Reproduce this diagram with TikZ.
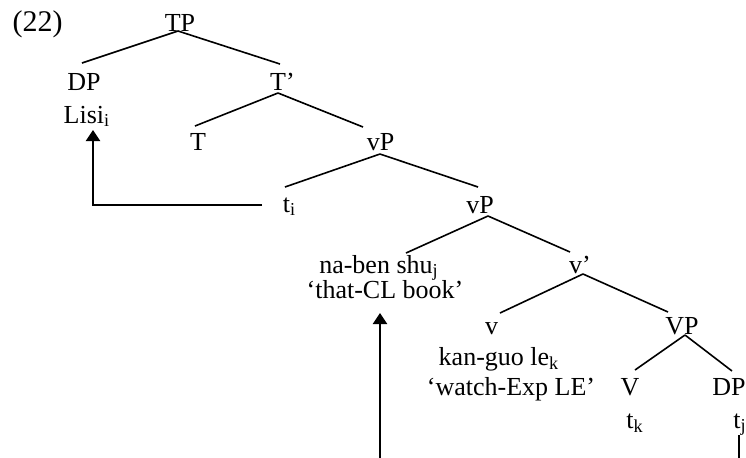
\documentclass[tikz,border=0pt]{standalone}
\usepackage{fontspec}
\setmainfont{Liberation Serif}
\usetikzlibrary{calc,arrows.meta}
\begin{document}
\begin{tikzpicture}[x=0.5pt,y=-0.5pt,
  lbl/.style={anchor=base,inner sep=0pt,font=\fontsize{13}{15}\selectfont},
  branch/.style={line width=0.8pt},
  move/.style={line width=1pt,-{Triangle[width=7pt,length=5.5pt]}}]
\useasboundingbox (0,0) rectangle (746,457);
\node[lbl,font=\fontsize{15}{17}\selectfont] (ex) at (37.5,31) {(22)};
\node[lbl] (TP) at (180,31) {TP};
\node[lbl] (DP) at (84,90) {DP};
\node[lbl] (Lisi) at (87,123) {Lisi\textsubscript{i}};
\node[lbl] (Tbar) at (282.5,90) {T’};
\node[lbl] (T) at (198,150) {T};
\node[lbl] (vP1) at (380.5,150) {vP};
\node[lbl] (ti) at (289.5,212) {t\textsubscript{i}};
\node[lbl] (vP2) at (480,213) {vP};
\node[lbl] (shu) at (379,273) {na-ben shu\textsubscript{j}};
\node[lbl] (book) at (385,298) {‘that-CL book’};
\node[lbl] (vbar) at (580,273) {v’};
\node[lbl] (v) at (491.5,334) {v};
\node[lbl] (VP) at (682,334) {VP};
\node[lbl] (kan) at (499,365) {kan-guo le\textsubscript{k}};
\node[lbl] (watch) at (511,395) {‘watch-Exp LE’};
\node[lbl] (V) at (630,395) {V};
\node[lbl] (DPb) at (729,395) {DP};
\node[lbl] (tk) at (635,428) {t\textsubscript{k}};
\node[lbl] (tj) at (740,428) {t\textsubscript{j}};
% branches
\draw[branch] ($(TP.base)+(-2,0)$) -- ($(DP.base)+(-2,-27)$);
\draw[branch] ($(TP.base)+(-2,0)$) -- ($(Tbar.base)+(-2.5,-26)$);
\draw[branch] ($(Tbar.base)+(-4.5,3)$) -- ($(T.base)+(-3,-24)$);
\draw[branch] ($(Tbar.base)+(-4.5,3)$) -- ($(vP1.base)+(-17.5,-23)$);
\draw[branch] ($(vP1.base)+(-0.5,4)$) -- ($(ti.base)+(-4.5,-25)$);
\draw[branch] ($(vP1.base)+(-0.5,4)$) -- ($(vP2.base)+(-2,-26)$);
\draw[branch] ($(vP2.base)+(8,3)$) -- ($(shu.base)+(27,-20)$);
\draw[branch] ($(vP2.base)+(8,3)$) -- ($(vbar.base)+(-10,-21)$);
\draw[branch] ($(vbar.base)+(3,1)$) -- ($(v.base)+(8.5,-21)$);
\draw[branch] ($(vbar.base)+(3,1)$) -- ($(VP.base)+(-14,-22)$);
\draw[branch] ($(VP.base)+(3,1)$) -- ($(V.base)+(5,-25)$);
\draw[branch] ($(VP.base)+(3,1)$) -- ($(DPb.base)+(3,-24)$);
% movement arrows
\draw[move] ($(ti.base)+(-27.5,-7)$) -| ($(Lisi.base)+(6,7)$);
\coordinate (botA) at (380,475);
\draw[move] (botA) -- ($(book.base)+(-5,15)$);
\coordinate (botB) at (739,475);
\draw[line width=1pt] ($(tj.base)+(-1,7)$) -- (botB);
\end{tikzpicture}
\end{document}
